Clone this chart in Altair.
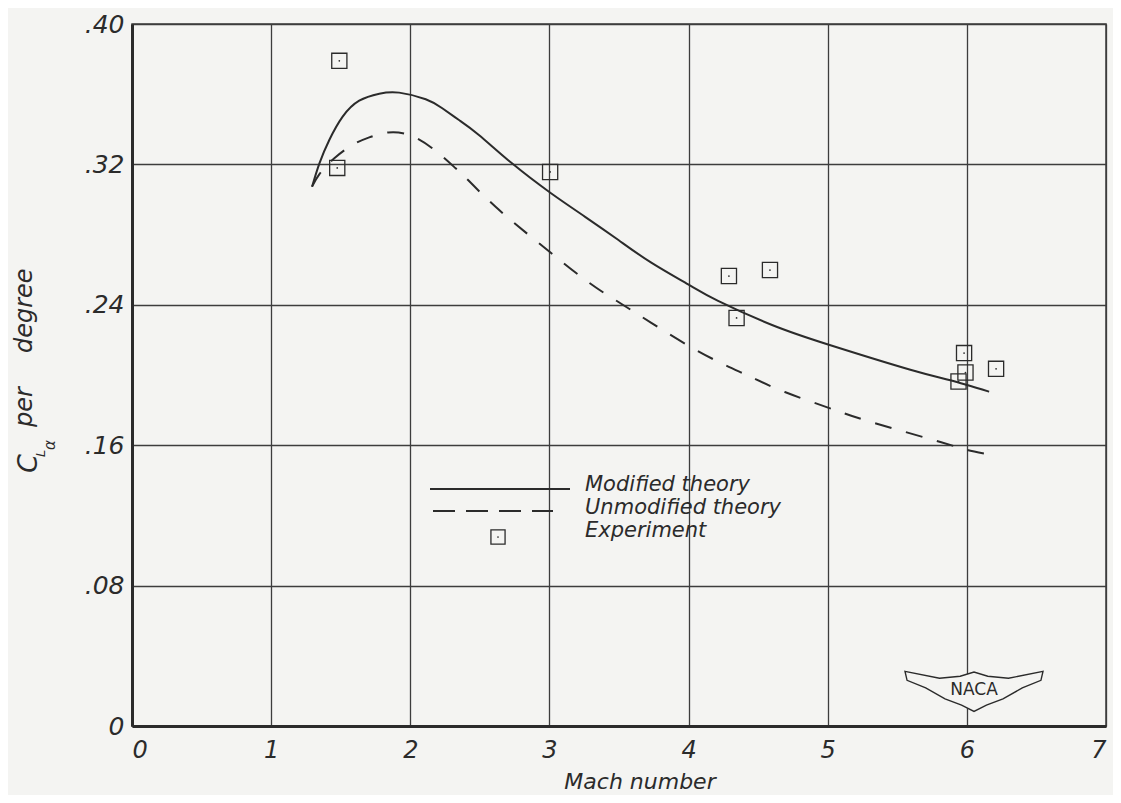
import altair as alt
import pandas as pd

# ---- data ----
modified_mach = [1.294, 1.347, 1.418, 1.514, 1.633, 1.777, 1.920, 2.111, 2.230, 2.350,
                 2.493, 2.731, 3.009, 3.259, 3.496, 3.732, 3.997, 4.212, 4.6, 5.014,
                 5.594, 5.881, 6.16]
modified_cla = [0.3073, 0.3206, 0.3339, 0.3472, 0.3563, 0.3603, 0.3609, 0.3571, 0.3520, 0.3453,
                0.3368, 0.3206, 0.3037, 0.2900, 0.2769, 0.2640, 0.2516, 0.2422, 0.2285, 0.2171,
                0.2030, 0.1970, 0.1905]

unmodified_mach = [1.294, 1.347, 1.454, 1.585, 1.705, 1.841, 1.991, 2.158, 2.326, 2.4,
                   2.615, 2.923, 3.259, 3.496, 3.732, 3.997, 4.233, 4.448, 4.692, 5.05,
                   5.337, 5.81, 6.003, 6.182]
unmodified_cla = [0.3073, 0.3145, 0.3235, 0.3311, 0.3354, 0.3382, 0.3368, 0.3292, 0.3178, 0.3123,
                  0.2957, 0.2752, 0.2541, 0.2416, 0.2297, 0.2168, 0.2068, 0.1989, 0.1903, 0.1801,
                  0.1726, 0.1618, 0.1573, 0.1544]

exp_mach = [1.49, 1.475, 3.005, 4.29, 4.585, 4.345, 5.98, 5.99, 5.94, 6.21]
exp_cla = [0.379, 0.318, 0.3157, 0.2564, 0.2598, 0.2325, 0.2125, 0.2014, 0.1963, 0.2035]

x_ticks = [0, 1, 2, 3, 4, 5, 6, 7]
y_ticks = [0, 0.08, 0.16, 0.24, 0.32, 0.40]

legend_labels = ["Modified theory", "Unmodified theory", "Experiment"]

# ---- styling ----
INK = "#2b2b2b"
GRID = "#3d3d3d"
BG = "#f4f4f2"
FONT = "DejaVu Sans"

W, H = 974, 702

mod_df = pd.DataFrame({"mach": modified_mach, "cla": modified_cla})
unmod_df = pd.DataFrame({"mach": unmodified_mach, "cla": unmodified_cla})
exp_df = pd.DataFrame({"mach": exp_mach, "cla": exp_cla})
one = pd.DataFrame({"a": [0]})

xscale = alt.Scale(domain=[0, 7], nice=False, zero=False)
yscale = alt.Scale(domain=[0, 0.4], nice=False, zero=False)

xaxis = alt.Axis(values=x_ticks, title=None, grid=True, gridColor=GRID, gridWidth=1.3,
                 gridOpacity=1, domainColor=INK, domainWidth=3, ticks=False,
                 labelFont=FONT, labelFontStyle="italic", labelFontSize=24,
                 labelColor=INK, labelPadding=12, format="d")
yaxis = alt.Axis(values=y_ticks, title=None, grid=True, gridColor=GRID, gridWidth=1.3,
                 gridOpacity=1, domainColor=INK, domainWidth=3, ticks=False,
                 labelFont=FONT, labelFontStyle="italic", labelFontSize=25,
                 labelColor=INK, labelPadding=8,
                 labelExpr="datum.value == 0 ? '0' : substring(format(datum.value, '.2f'), 1)")

X = alt.X("mach:Q", scale=xscale, axis=xaxis)
Y = alt.Y("cla:Q", scale=yscale, axis=yaxis)

solid = alt.Chart(mod_df).mark_line(color=INK, strokeWidth=2, interpolate="natural").encode(x=X, y=Y)
dashed = alt.Chart(unmod_df).mark_line(color=INK, strokeWidth=2, strokeDash=[17, 15],
                                         interpolate="natural").encode(x=X, y=Y)
squares = alt.Chart(exp_df).mark_point(shape="square", size=230, color=INK, strokeWidth=1.3,
                                        filled=False, opacity=1).encode(x=X, y=Y)
dots = alt.Chart(exp_df).mark_point(shape="circle", size=3, color=INK, filled=True,
                                     opacity=1).encode(x=X, y=Y)

def txt(s, x, y, size, align="left", baseline="alphabetic", angle=0, style="italic", weight="normal"):
    kw = dict(font=FONT, fontSize=size, fontStyle=style, fontWeight=weight, color=INK,
              align=align, baseline=baseline)
    if angle:
        kw["angle"] = angle
    return alt.Chart(one).mark_text(**kw).encode(x=alt.value(x), y=alt.value(y), text=alt.value(s))

# legend (decoration)
leg_solid = alt.Chart(one).mark_rule(color=INK, strokeWidth=2).encode(
    x=alt.value(298), x2=alt.value(438), y=alt.value(465))
leg_dash = alt.Chart(one).mark_rule(color=INK, strokeWidth=2, strokeDash=[22, 11]).encode(
    x=alt.value(301), x2=alt.value(421), y=alt.value(487))
leg_sq = alt.Chart(one).mark_point(shape="square", size=200, color=INK, strokeWidth=1.3,
                                   filled=False, opacity=1).encode(x=alt.value(366), y=alt.value(513))
leg_dot = alt.Chart(one).mark_point(shape="circle", size=3, color=INK, filled=True,
                                    opacity=1).encode(x=alt.value(366), y=alt.value(513))
leg_t1 = txt(legend_labels[0], 453, 467, 21)
leg_t2 = txt(legend_labels[1], 453, 490, 21)
leg_t3 = txt(legend_labels[2], 453, 513, 21)

# axis titles
xtitle = txt("Mach number", 508, 765, 22, align="center")
yt_C = txt("C", -95, 449, 27, angle=270)
yt_L = txt("L", -87, 433, 13, angle=270)
yt_a = txt("α", -77, 426, 15, angle=270)
yt_per = txt("per", -100, 403, 24, angle=270)
yt_deg = txt("degree", -100, 329, 24, angle=270)

# NACA logo
wing = ("M -1 -0.27 L -0.5 -0.17 L -0.2 -0.2 L 0 -0.26 L 0.2 -0.2 L 0.5 -0.17 L 1 -0.27 "
        "L 0.97 -0.14 L 0.7 -0.03 L 0.42 0.13 L 0.18 0.22 L 0 0.31 L -0.18 0.22 L -0.42 0.13 "
        "L -0.7 -0.03 L -0.97 -0.14 Z")
logo = alt.Chart(one).mark_point(shape=wing, size=138 * 138, fill=BG, stroke=INK, strokeWidth=1.4,
                                 filled=True, opacity=1, fillOpacity=1).encode(
    x=alt.value(842), y=alt.value(666))
logo_t = txt("NACA", 842, 666, 17, align="center", baseline="middle", style="normal")

chart = alt.layer(
    solid, dashed, squares, dots,
    leg_solid, leg_dash, leg_sq, leg_dot, leg_t1, leg_t2, leg_t3,
    xtitle, yt_C, yt_L, yt_a, yt_per, yt_deg,
    logo, logo_t,
).properties(
    width=W, height=H,
    autosize=alt.AutoSizeParams(type="none"),
    padding={"left": 124, "top": 16, "right": 7, "bottom": 69},
    background=BG,
).configure_view(stroke=GRID, strokeWidth=1.5)

chart.save("out.html", embed_options={"renderer": "svg", "actions": False})
